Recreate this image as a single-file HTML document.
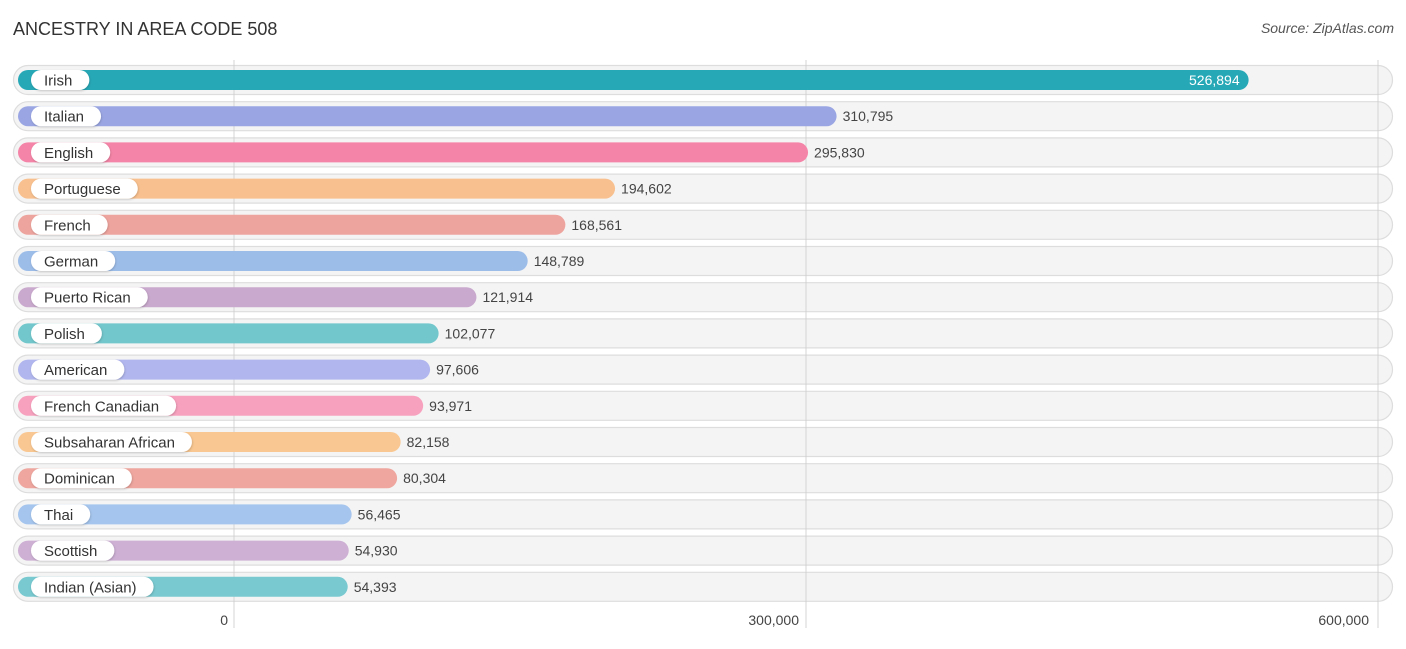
<!DOCTYPE html>
<html><head><meta charset="utf-8"><style>
body{margin:0;background:#fff;font-family:"Liberation Sans",Arial,sans-serif;}
svg text{font-family:"Liberation Sans",Arial,sans-serif;}
</style></head><body>
<svg id="chart" width="1406" height="644" xmlns="http://www.w3.org/2000/svg">
<defs><filter id="sh" x="-20%" y="-40%" width="140%" height="180%"><feDropShadow dx="0.5" dy="1" stdDeviation="1" flood-color="#000" flood-opacity="0.2"/></filter></defs>
<text x="13" y="35" font-size="18" fill="#333">ANCESTRY IN AREA CODE 508</text>
<text x="1394" y="33" font-size="14" fill="#555" text-anchor="end" font-style="italic">Source: ZipAtlas.com</text>
<g id="rows"></g><g id="grid"></g><g id="bars"></g><g id="ticks"></g>
</svg>
<script>
const categories=["Irish","Italian","English","Portuguese","French","German","Puerto Rican","Polish","American","French Canadian","Subsaharan African","Dominican","Thai","Scottish","Indian (Asian)"];
const values=[526894,310795,295830,194602,168561,148789,121914,102077,97606,93971,82158,80304,56465,54930,54393];
const valueLabels=["526,894","310,795","295,830","194,602","168,561","148,789","121,914","102,077","97,606","93,971","82,158","80,304","56,465","54,930","54,393"];
const tickValues=[0,300000,600000];
const tickLabels=["0","300,000","600,000"];
const colors=["#27a8b6","#9aa6e3","#f585a8","#f8c08e","#eea49e","#9dbde9","#c9a9cd","#72c7cc","#b1b7ee","#f7a1be","#f9c791","#eea69e","#a5c5ee","#cdb0d4","#78c9d0"];
const NS="http://www.w3.org/2000/svg";
const x=v=>234+v*572/300000;
const y=i=>80+i*36.2;
function mk(t,a,p){const e=document.createElementNS(NS,t);for(const k in a)e.setAttribute(k,a[k]);p.appendChild(e);return e;}
const grid=document.getElementById('grid'),rows=document.getElementById('rows'),bars=document.getElementById('bars'),ticks=document.getElementById('ticks');
categories.forEach((c,i)=>{
  const cy=y(i);
  const tr=mk('rect',{x:13.5,y:cy-14.5,width:1379,height:29,rx:14.5,fill:'#f4f4f4',stroke:'#ddd','stroke-width':1.2},rows);
  
  
});
tickValues.forEach((t,i)=>{
  const l=mk('line',{x1:x(t),x2:x(t),y1:60,y2:628,stroke:'#ccc','stroke-width':1,'stroke-opacity':0.8},grid);
  
  
  const tx=mk('text',{x:x(t)-(i==0?6:i==1?7:9),y:625,'font-size':14,fill:'#444','text-anchor':'end'},ticks);
  tx.textContent=tickLabels[i];
  
  
});
categories.forEach((c,i)=>{
  const g=mk('g',{},bars);
  
  
  const cy=y(i);
  const w=x(values[i])+10-18;
  const b=mk('rect',{x:18,y:cy-10,width:w,height:20,rx:10,fill:colors[i]},g);
  
  
  const pill=mk('rect',{x:31,y:cy-10,width:50,height:20,rx:10,fill:'#fff',filter:'url(#sh)'},g);
  const lt=mk('text',{x:44,y:cy+5.5,'font-size':15,fill:'#333'},g);
  lt.textContent=c;
  
  
  pill.setAttribute('width',lt.getComputedTextLength()+30);
  const inside=i==0;
  const vt=mk('text',{x:inside?x(values[i])+1:x(values[i])+16,y:cy+5,'font-size':14,fill:inside?'#fff':'#444','text-anchor':inside?'end':'start'},g);
  vt.textContent=valueLabels[i];
  
  
});
</script>
</body></html>
